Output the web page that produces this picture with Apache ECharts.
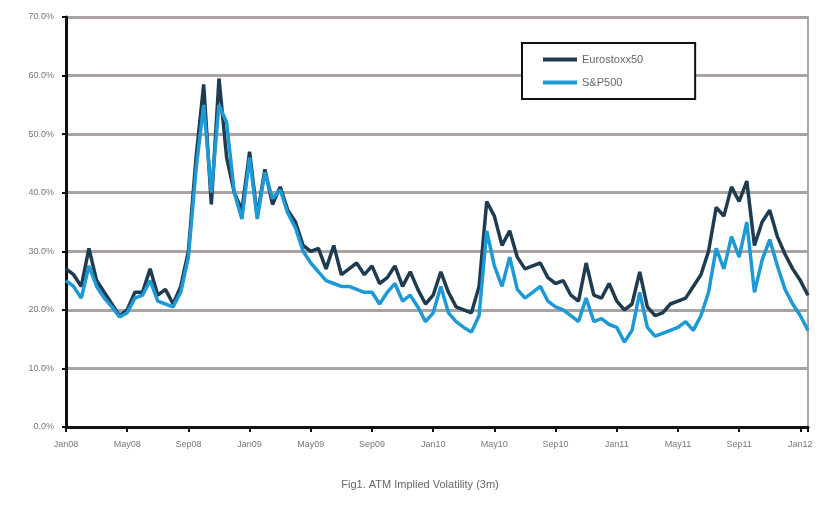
<!DOCTYPE html>
<html>
<head>
<meta charset="utf-8">
<script src="https://cdn.jsdelivr.net/npm/echarts@6/dist/echarts.min.js"></script>
<style>
  html, body { margin: 0; padding: 0; background: #fff; }
  #chart { width: 840px; height: 510px; }
</style>
</head>
<body>
<div id="chart"></div>
<script>
// x tick labels, one every 4 months from Jan08
var tickLabels = ['Jan08', 'May08', 'Sep08', 'Jan09', 'May09', 'Sep09', 'Jan10',
  'May10', 'Sep10', 'Jan11', 'May11', 'Sep11', 'Jan12'];

// half-monthly readings (%), first point = Jan08
var stepMonths = 0.5;
var eurostoxx50 = [
  27, 26, 24, 30.5, 25, 23, 21, 19, 20, 23, 23, 27, 22.5, 23.5, 21, 24,
  30, 46, 58.5, 38, 59.5, 46, 40, 37, 47, 36, 44, 38, 41, 37, 35, 31,
  30, 30.5, 27, 31, 26, 27, 28, 26, 27.5, 24.5, 25.5, 27.5, 24, 26.5, 23.5, 21,
  22.5, 26.5, 23, 20.5, 20, 19.5, 24, 38.5, 36, 31, 33.5, 29, 27, 27.5, 28, 25.5,
  24.5, 25, 22.5, 21.5, 28, 22.5, 22, 24.5, 21.5, 20, 21, 26.5, 20.5, 19, 19.5, 21,
  21.5, 22, 24, 26, 30, 37.5, 36, 41, 38.5, 42, 31, 35, 37, 32.5, 29.5, 27,
  25, 22.5
];
var sp500 = [
  25, 24, 22, 27.5, 24, 22, 20.5, 18.8, 19.5, 22, 22.5, 25, 21.5, 21, 20.5, 23,
  29, 44, 55, 40, 55, 52, 40, 35.5, 46, 35.5, 43.5, 39, 40.5, 36.5, 34, 30,
  28, 26.5, 25, 24.5, 24, 24, 23.5, 23, 23, 21, 23, 24.5, 21.5, 22.5, 20.5, 18,
  19.5, 24, 19.5, 18, 17, 16.2, 19, 33.5, 27.5, 24, 29, 23.5, 22, 23, 24, 21.5,
  20.5, 20, 19, 18, 22, 18, 18.5, 17.5, 17, 14.5, 16.5, 23, 17, 15.5, 16, 16.5,
  17, 18, 16.5, 19, 23, 30.5, 27, 32.5, 29, 35, 23, 28.5, 32, 27.5, 23.5, 21,
  19, 16.5
];

function toPairs(values) {
  return values.map(function (v, i) { return [i * stepMonths, v]; });
}

var chart = echarts.init(document.getElementById('chart'));
var font = 'Liberation Sans, Arial, sans-serif';

chart.setOption({
  backgroundColor: '#fff',
  animation: false,
  title: {
    text: 'Fig1. ATM Implied Volatility (3m)',
    left: 'center',
    top: 474,
    textStyle: { fontSize: 11, fontWeight: 'normal', color: '#666', fontFamily: font }
  },
  legend: {
    orient: 'vertical',
    left: 522,
    top: 43,
    width: 175,
    padding: [11, 52, 11, 21],
    itemGap: 12,
    itemWidth: 34,
    itemHeight: 4,
    icon: 'rect',
    backgroundColor: '#fff',
    borderColor: '#111',
    borderWidth: 2,
    textStyle: { fontSize: 11, color: '#666', fontFamily: font }
  },
  grid: {
    left: 66,
    right: 32,
    top: 17,
    bottom: 83,
    show: true,
    borderColor: '#aaa3a3',
    borderWidth: 2
  },
  xAxis: {
    type: 'value',
    min: 0,
    max: 48.5,
    interval: 4,
    axisLine: { lineStyle: { color: '#111', width: 3 } },
    axisTick: { show: true, length: 5, lineStyle: { color: '#111', width: 2 } },
    splitLine: { show: false },
    axisLabel: {
      margin: 13,
      fontSize: 9,
      color: '#777',
      fontFamily: font,
      formatter: function (v) {
        return v % 4 === 0 ? (tickLabels[v / 4] || '') : '';
      }
    }
  },
  yAxis: {
    type: 'value',
    min: 0,
    max: 70,
    interval: 10,
    axisLine: { show: true, lineStyle: { color: '#111', width: 3 } },
    axisTick: { show: true, length: 4, lineStyle: { color: '#111', width: 2 } },
    splitLine: { lineStyle: { color: '#aaa3a3', width: 3 } },
    axisLabel: {
      margin: 12,
      fontSize: 9,
      color: '#777',
      fontFamily: font,
      formatter: function (v) { return v.toFixed(1) + '%'; }
    }
  },
  series: [
    {
      name: 'Eurostoxx50',
      type: 'line',
      data: toPairs(eurostoxx50),
      showSymbol: false,
      color: '#1f3b50',
      lineStyle: { width: 3.5, color: '#1f3b50' }
    },
    {
      name: 'S&P500',
      type: 'line',
      data: toPairs(sp500),
      showSymbol: false,
      color: '#1d9ad6',
      lineStyle: { width: 3.5, color: '#1d9ad6' }
    }
  ]
});
</script>
</body>
</html>
